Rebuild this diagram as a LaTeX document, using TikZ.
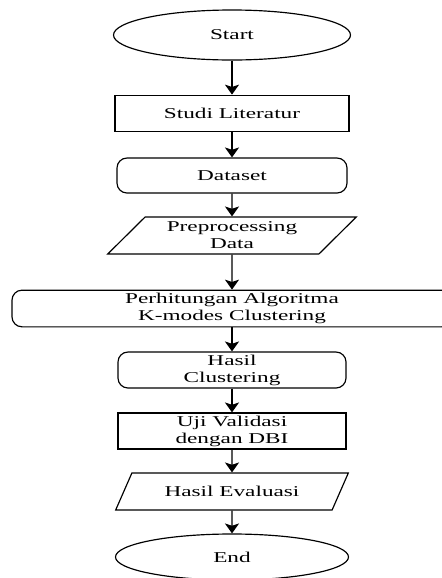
\documentclass[tikz,border=0pt]{standalone}
\usepackage{fontspec}
\setmainfont{Liberation Serif}[FakeStretch=1.55]
\usetikzlibrary{shapes.geometric,arrows.meta}

\begin{document}
\begin{tikzpicture}[x=0.03cm,y=-0.03cm,
  font=\fontsize{12.8}{14.5}\selectfont,
  >={Stealth[length=8.5pt,width=12pt,inset=2pt]},
  box/.style={draw,line width=1pt,inner sep=0pt,align=center},
  terminal/.style={box,shape=ellipse},
  process/.style={box,shape=rectangle,minimum width=6.9cm,minimum height=1.1cm},
  soft/.style={process,rounded corners=0.3cm},
  data/.style={box,shape=trapezium,trapezium left angle=44,trapezium right angle=136,
    trapezium stretches=true,minimum height=1.11cm}]
\useasboundingbox (0,0) rectangle (442,578);
\node(0) at (232,35)[terminal,minimum width=7.11cm,minimum height=1.5cm]   {Start};
\node(1) at (232,113.5)[process,minimum width=7.02cm]                     {Studi Literatur};
\node(2) at (232,175.5)[soft,minimum height=1.05cm]                       {Dataset};
\node(3) at (232,235.5)[data,minimum width=7.47cm]                        {Preprocessing\\Data};
\node(4) at (232,308.5)[soft,minimum width=13.2cm]                        {Perhitungan Algoritma\\K-modes Clustering};
\node(5) at (232,370)[soft,minimum width=6.84cm,minimum height=1.08cm]    {Hasil\\Clustering};
\node(6) at (232,431)[process,minimum width=6.84cm,minimum height=1.08cm] {Uji Validasi\\dengan DBI};
\node(7) at (232,491.5)[data,minimum width=6.99cm]                        {Hasil Evaluasi};
\node(8) at (232,557)[terminal,minimum width=6.99cm,minimum height=1.38cm] {End};
\path [->,line width=1pt]
  (0)      edge      (1)
  (1)      edge      (2)
  (2)      edge      (3)
  (3)      edge      (4)
  (4)      edge      (5)
  (5)      edge      (6)
  (6)      edge      (7)
  (7)      edge      (8);

\end{tikzpicture}
\end{document}
